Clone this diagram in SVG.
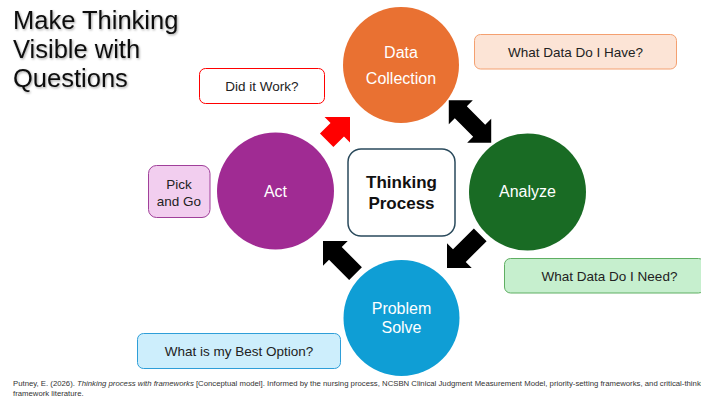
<svg xmlns="http://www.w3.org/2000/svg" width="701" height="402" viewBox="0 0 701 402">
<defs>
<style>
text{font-family:"Liberation Sans",Arial,sans-serif}
.title{font-size:25.5px;fill:#111}
.ct{font-size:16px;fill:#fff;text-anchor:middle}
.bt{font-size:13.5px;fill:#222;text-anchor:middle}
.foot{font-size:7.75px;fill:#333}
</style>
<filter id="sh" x="-5%" y="-5%" width="110%" height="120%">
<feDropShadow dx="1" dy="1.2" stdDeviation="0.8" flood-color="#000" flood-opacity="0.35"/>
</filter>
</defs>
<rect width="701" height="402" fill="#fff"/>
<g id="title" filter="url(#sh)">
<text class="title" x="13" y="29">Make Thinking</text>
<text class="title" x="13" y="58">Visible with</text>
<text class="title" x="13" y="87">Questions</text>
</g>
<g id="connectors">
<path fill="#ff0000" transform="translate(350,117) rotate(-45)" d="M0,0 L-18,-18 L-18,-9.5 L-33,-9.5 L-33,9.5 L-18,9.5 L-18,18 Z"/>
<path fill="#000" transform="translate(470,121.5) rotate(45)" d="M30,0 L13,-17 L13,-8.5 L-13,-8.5 L-13,-17 L-30,0 L-13,17 L-13,8.5 L13,8.5 L13,17 Z"/>
<path fill="#000" transform="translate(447,268) rotate(135)" d="M0,0 L-17.5,-17.5 L-17.5,-9 L-47,-9 L-47,9 L-17.5,9 L-17.5,17.5 Z"/>
<path fill="#000" transform="translate(323,241) rotate(225)" d="M0,0 L-17.5,-17.5 L-17.5,-9 L-46,-9 L-46,9 L-17.5,9 L-17.5,17.5 Z"/>
</g>
<g id="data-collection">
<circle cx="401" cy="65" r="58" fill="#E97132"/>
<text class="ct" x="401" y="58">Data</text>
<text class="ct" x="401" y="84">Collection</text>
</g>
<g id="analyze">
<circle cx="527.5" cy="192" r="58.5" fill="#196B24"/>
<text class="ct" x="527.5" y="197">Analyze</text>
</g>
<g id="problem-solve">
<circle cx="401.5" cy="318" r="58" fill="#0F9ED5"/>
<text class="ct" x="401.5" y="314">Problem</text>
<text class="ct" x="401.5" y="333">Solve</text>
</g>
<g id="act">
<circle cx="275.5" cy="191" r="58.5" fill="#A02B93"/>
<text class="ct" x="275.5" y="197">Act</text>
</g>
<g id="thinking-process">
<rect x="348" y="149" width="107" height="87" rx="13" fill="#fff" stroke="#2A4A5C" stroke-width="1.5"/>
<text x="401.5" y="188" font-size="17px" font-weight="bold" text-anchor="middle" fill="#111">Thinking</text>
<text x="401.5" y="209" font-size="17px" font-weight="bold" text-anchor="middle" fill="#111">Process</text>
</g>
<g id="did-it-work">
<rect x="199.5" y="68.5" width="125" height="35" rx="6" fill="#fff" stroke="#FF0000" stroke-width="1"/>
<text class="bt" x="262" y="91">Did it Work?</text>
</g>
<g id="what-data-have">
<rect x="474.5" y="34.5" width="202" height="34.5" rx="6" fill="#FCE4D6" stroke="#F4A070" stroke-width="1"/>
<text class="bt" x="575.5" y="56.5">What Data Do I Have?</text>
</g>
<g id="what-data-need">
<rect x="504.5" y="258.5" width="200" height="34.5" rx="6" fill="#C6EFCE" stroke="#5FAE62" stroke-width="1"/>
<text class="bt" x="609.5" y="281">What Data Do I Need?</text>
</g>
<g id="pick-and-go">
<rect x="148.5" y="165.5" width="61.5" height="52" rx="8" fill="#F2CEEF" stroke="#A0409A" stroke-width="1"/>
<text class="bt" x="179" y="189">Pick</text>
<text class="bt" x="179" y="206">and Go</text>
</g>
<g id="best-option">
<rect x="137.5" y="333.5" width="203" height="35" rx="6" fill="#CDEEFC" stroke="#2E9ED8" stroke-width="1"/>
<text class="bt" x="239" y="356">What is my Best Option?</text>
</g>
<g id="footnote">
<text class="foot" x="13" y="386">Putney, E. (2026). <tspan font-style="italic">Thinking process with frameworks</tspan> [Conceptual model]. Informed by the nursing process, NCSBN Clinical Judgment Measurement Model, priority-setting frameworks, and critical-thinking</text>
<text class="foot" x="13" y="396">framework literature.</text>
</g>
</svg>
